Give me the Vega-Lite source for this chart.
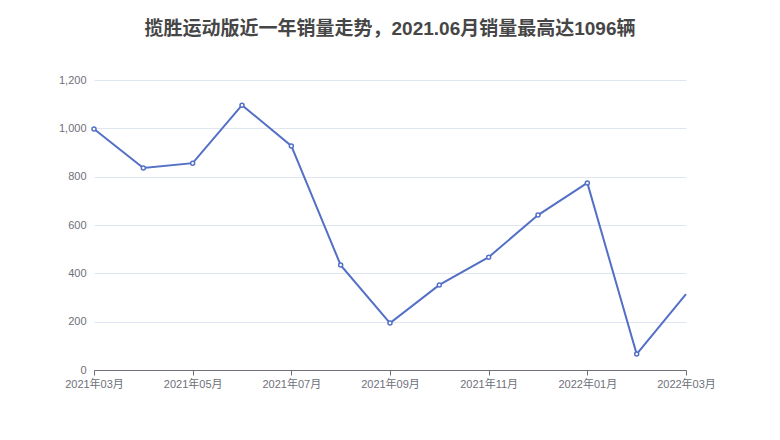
{
  "$schema": "https://vega.github.io/schema/vega-lite/v6.json",
  "autosize": "none",
  "width": 592,
  "height": 290,
  "padding": {"left": 94, "top": 80, "right": 94, "bottom": 70},
  "background": "white",
  "title": {
    "text": "揽胜运动版近一年销量走势，2021.06月销量最高达1096辆",
    "fontSize": 19,
    "fontWeight": "bold",
    "color": "#464646",
    "font": "'Liberation Sans', 'Noto Sans CJK SC', sans-serif",
    "anchor": "middle",
    "offset": 35
  },
  "config": {
    "view": {"stroke": null},
    "axis": {
      "labelFont": "'Liberation Sans', 'Noto Sans CJK SC', sans-serif",
      "labelFontSize": 11,
      "labelColor": "#6e7079",
      "title": null
    }
  },
  "data": {
    "values": [
      {"month": "2021年03月", "sales": 997, "last": false},
      {"month": "2021年04月", "sales": 836, "last": false},
      {"month": "2021年05月", "sales": 856, "last": false},
      {"month": "2021年06月", "sales": 1096, "last": false},
      {"month": "2021年07月", "sales": 927, "last": false},
      {"month": "2021年08月", "sales": 434, "last": false},
      {"month": "2021年09月", "sales": 194, "last": false},
      {"month": "2021年10月", "sales": 352, "last": false},
      {"month": "2021年11月", "sales": 467, "last": false},
      {"month": "2021年12月", "sales": 641, "last": false},
      {"month": "2022年01月", "sales": 774, "last": false},
      {"month": "2022年02月", "sales": 66, "last": false},
      {"month": "2022年03月", "sales": 314, "last": true}
    ]
  },
  "encoding": {
    "x": {
      "field": "month",
      "type": "ordinal",
      "sort": null,
      "scale": {"type": "point", "padding": 0},
      "axis": {
        "values": ["2021年03月", "2021年05月", "2021年07月", "2021年09月", "2021年11月", "2022年01月", "2022年03月"],
        "labelAngle": 0,
        "domainColor": "#6e7079",
        "tickColor": "#6e7079",
        "tickSize": 5,
        "labelPadding": 3,
        "grid": false
      }
    },
    "y": {
      "field": "sales",
      "type": "quantitative",
      "scale": {"domain": [0, 1200], "nice": false},
      "axis": {
        "values": [0, 200, 400, 600, 800, 1000, 1200],
        "format": ",d",
        "domain": false,
        "ticks": false,
        "labelPadding": 8,
        "gridColor": "#e0e6f1",
        "gridWidth": 1
      }
    }
  },
  "layer": [
    {
      "mark": {"type": "line", "color": "#5470c6", "strokeWidth": 2}
    },
    {
      "transform": [{"filter": "!datum.last"}],
      "mark": {"type": "point", "shape": "circle", "filled": true, "fill": "white", "stroke": "#5470c6", "strokeWidth": 1.5, "size": 16, "opacity": 1}
    }
  ]
}
